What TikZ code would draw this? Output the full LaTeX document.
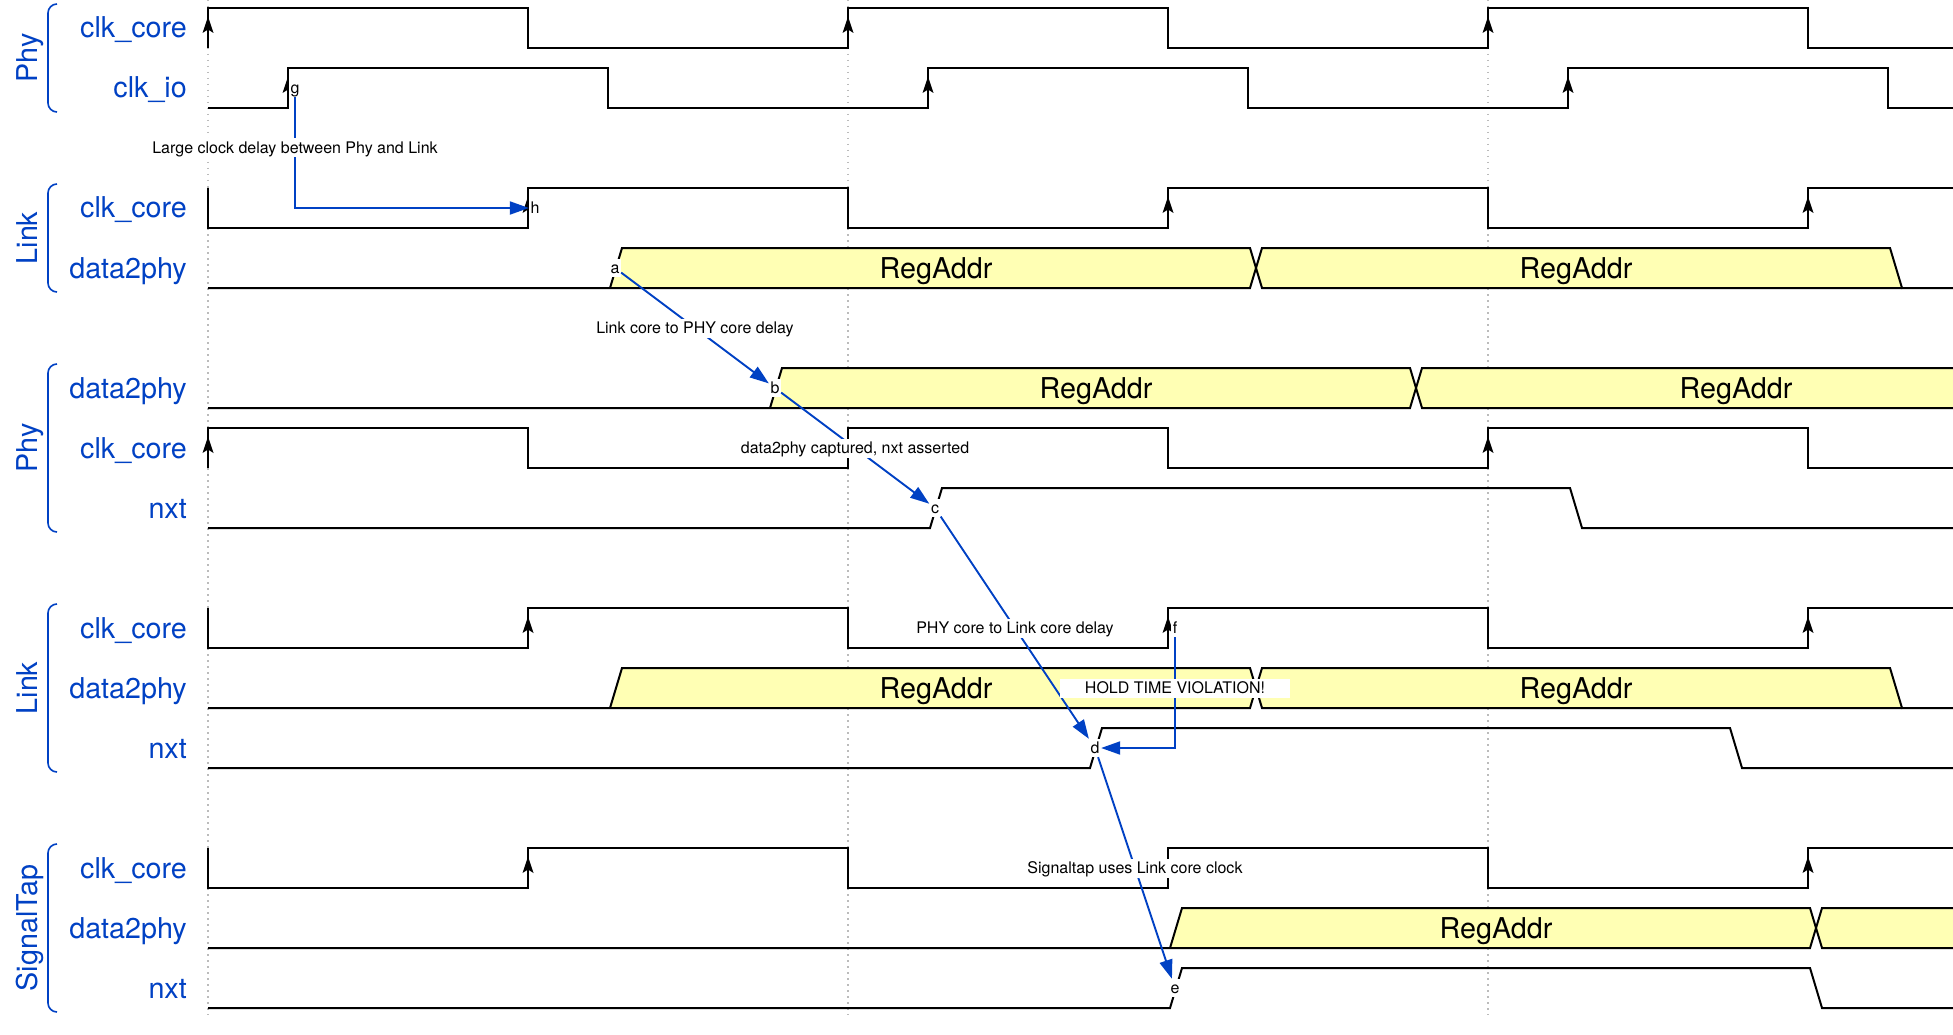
\documentclass[tikz,border=0pt]{standalone}
\usepackage{fontspec}
\setmainfont{TeX Gyre Heros}
\usetikzlibrary{arrows.meta,calc}
\definecolor{wdblue}{HTML}{0041C4}
\definecolor{busfill}{HTML}{FFFFB4}
\definecolor{gridc}{HTML}{BBBBBB}
\tikzset{
 wv/.style={line width=2pt, black, line join=miter},
 bus/.style={fill=busfill},
 gridln/.style={gridc, line width=1.5pt, dash pattern=on 1.5pt off 4.5pt},
 lanelbl/.style={text=wdblue, anchor=base east, inner sep=0pt, font=\fontsize{28.7pt}{30pt}\selectfont},
 grplbl/.style={text=wdblue, rotate=90, anchor=base, inner sep=0pt, font=\fontsize{28.7pt}{30pt}\selectfont},
 brk/.style={wdblue, line width=1.6pt, rounded corners=9pt},
 datalbl/.style={anchor=base, inner sep=0pt, font=\fontsize{28.7pt}{30pt}\selectfont},
 nodelbl/.style={fill=white, inner xsep=1.5pt, inner ysep=1.5pt, text height=13.2pt, text depth=1.8pt, font=\fontsize{16pt}{18pt}\selectfont},
 edgelbl/.style={fill=white, inner xsep=1pt, inner ysep=2pt, text height=13.2pt, text depth=1.8pt, font=\fontsize{16pt}{18pt}\selectfont},
 edg/.style={wdblue, line width=1.9pt, -{Triangle[length=19pt,width=13pt]}},
}
\newcommand\clkarr[2]{\fill (#1,#2+8.5) -- (#1-5.5,#2+25) -- (#1,#2+21.5) -- (#1+5.5,#2+25) -- cycle;}
\newcommand\clkP[2]{\draw[wv] (208,#2) -- (208,#1) -- (528,#1) -- (528,#2) -- (848,#2) -- (848,#1) -- (1168,#1) -- (1168,#2) -- (1488,#2) -- (1488,#1) -- (1808,#1) -- (1808,#2) -- (1953,#2);
 \clkarr{208}{#1}\clkarr{848}{#1}\clkarr{1488}{#1}}
\newcommand\clkN[2]{\draw[wv] (208,#1) -- (208,#2) -- (528,#2) -- (528,#1) -- (848,#1) -- (848,#2) -- (1168,#2) -- (1168,#1) -- (1488,#1) -- (1488,#2) -- (1808,#2) -- (1808,#1) -- (1953,#1);
 \clkarr{528}{#1}\clkarr{1168}{#1}\clkarr{1808}{#1}}
\begin{document}
\begin{tikzpicture}[x=1pt,y=-1pt]
\useasboundingbox (0,0) rectangle (1953,1035);
\fill[white] (0,0) rectangle (1953,1035);
\begin{scope}
\clip (0,0) rectangle (1953,1035);
% grid
\draw[gridln] (208,0) -- (208,1015);
\draw[gridln] (848,0) -- (848,1015);
\draw[gridln] (1488,0) -- (1488,1015);
% group brackets and labels
\draw[brk] (57,4) -- (48,4) -- (48,112) -- (57,112);
\draw[brk] (57,184) -- (48,184) -- (48,292) -- (57,292);
\draw[brk] (57,364) -- (48,364) -- (48,532) -- (57,532);
\draw[brk] (57,604) -- (48,604) -- (48,772) -- (57,772);
\draw[brk] (57,844) -- (48,844) -- (48,1012) -- (57,1012);
\node[grplbl] (gphy1) at (37,58) {Phy};
\node[grplbl] (glink1) at (37,238) {Link};
\node[grplbl] (gphy2) at (37,448) {Phy};
\node[grplbl] (glink2) at (37,688) {Link};
\node[grplbl] (gst) at (37,928) {SignalTap};
% lane labels
\node[lanelbl] (l0) at (187,38) {clk\_core};
\node[lanelbl] (l1) at (187,98) {clk\_io};
\node[lanelbl] (l3) at (187,218) {clk\_core};
\node[lanelbl] (l4) at (187,278) {data2phy};
\node[lanelbl] (l6) at (187,398) {data2phy};
\node[lanelbl] (l7) at (187,458) {clk\_core};
\node[lanelbl] (l8) at (187,518) {nxt};
\node[lanelbl] (l10) at (187,638) {clk\_core};
\node[lanelbl] (l11) at (187,698) {data2phy};
\node[lanelbl] (l12) at (187,758) {nxt};
\node[lanelbl] (l14) at (187,878) {clk\_core};
\node[lanelbl] (l15) at (187,938) {data2phy};
\node[lanelbl] (l16) at (187,998) {nxt};
% clocks
\clkP{8}{48}
\draw[wv] (208,108) -- (288,108) -- (288,68) -- (608,68) -- (608,108) -- (928,108) -- (928,68) -- (1248,68) -- (1248,108) -- (1568,108) -- (1568,68) -- (1888,68) -- (1888,108) -- (1953,108);
\clkarr{288}{68}\clkarr{928}{68}\clkarr{1568}{68}
\clkN{188}{228}
\clkP{428}{468}
\clkN{608}{648}
\clkN{848}{888}
% lane 4 bus
\fill[bus] (610,288) -- (622,248) -- (1250,248) -- (1256,268) -- (1250,288) -- cycle;
\fill[bus] (1256,268) -- (1262,248) -- (1890,248) -- (1902,288) -- (1262,288) -- cycle;
\draw[wv] (208,288) -- (1250,288) -- (1262,248) -- (1890,248) -- (1902,288) -- (1953,288);
\draw[wv] (610,288) -- (622,248) -- (1250,248) -- (1262,288) -- (1902,288);
\node[datalbl] (d4a) at (936,278) {RegAddr};
\node[datalbl] (d4b) at (1576,278) {RegAddr};
% lane 6 bus
\fill[bus] (770,408) -- (782,368) -- (1410,368) -- (1416,388) -- (1410,408) -- cycle;
\fill[bus] (1416,388) -- (1422,368) -- (1990,368) -- (1990,408) -- (1422,408) -- cycle;
\draw[wv] (208,408) -- (1410,408) -- (1422,368) -- (1990,368);
\draw[wv] (770,408) -- (782,368) -- (1410,368) -- (1422,408) -- (1990,408);
\node[datalbl] (d6a) at (1096,398) {RegAddr};
\node[datalbl] (d6b) at (1736,398) {RegAddr};
% lane 8 nxt
\draw[wv] (208,528) -- (930,528) -- (942,488) -- (1570,488) -- (1582,528) -- (1953,528);
% lane 11 bus
\fill[bus] (610,708) -- (622,668) -- (1250,668) -- (1256,688) -- (1250,708) -- cycle;
\fill[bus] (1256,688) -- (1262,668) -- (1890,668) -- (1902,708) -- (1262,708) -- cycle;
\draw[wv] (208,708) -- (1250,708) -- (1262,668) -- (1890,668) -- (1902,708) -- (1953,708);
\draw[wv] (610,708) -- (622,668) -- (1250,668) -- (1262,708) -- (1902,708);
\node[datalbl] (d11a) at (936,698) {RegAddr};
\node[datalbl] (d11b) at (1576,698) {RegAddr};
% lane 12 nxt
\draw[wv] (208,768) -- (1090,768) -- (1102,728) -- (1730,728) -- (1742,768) -- (1953,768);
% lane 15 bus
\fill[bus] (1170,948) -- (1182,908) -- (1810,908) -- (1816,928) -- (1810,948) -- cycle;
\fill[bus] (1816,928) -- (1822,908) -- (1990,908) -- (1990,948) -- (1822,948) -- cycle;
\draw[wv] (208,948) -- (1810,948) -- (1822,908) -- (1990,908);
\draw[wv] (1170,948) -- (1182,908) -- (1810,908) -- (1822,948) -- (1990,948);
\node[datalbl] (d15a) at (1496,938) {RegAddr};
% lane 16 nxt
\draw[wv] (208,1008) -- (1170,1008) -- (1182,968) -- (1810,968) -- (1822,1008) -- (1953,1008);
% node labels
\node[nodelbl] (g) at (295,88) {g};
\node[nodelbl] (h) at (535,208) {h};
\node[nodelbl] (a) at (615,268) {a};
\node[nodelbl] (b) at (775,388) {b};
\node[nodelbl] (c) at (935,508) {c};
\node[nodelbl] (d) at (1095,748) {d};
\node[nodelbl] (e) at (1175,988) {e};
\node[nodelbl] (f) at (1175,628) {f};
% edges
\draw[edg] (g) |- (h);
\node[edgelbl] (t1) at (295,148) {Large clock delay between Phy and Link};
\draw[edg] (a) -- (b);
\node[edgelbl] (t2) at ($(a)!0.5!(b)$) {Link core to PHY core delay};
\draw[edg] (b) -- (c);
\node[edgelbl] (t3) at ($(b)!0.5!(c)$) {data2phy captured, nxt asserted};
\draw[edg] (c) -- (d);
\node[edgelbl] (t4) at ($(c)!0.5!(d)$) {PHY core to Link core delay};
\draw[edg] (f) |- (d);
\node[edgelbl, inner xsep=25pt] (t5) at (1175,688) {HOLD TIME VIOLATION!};
\draw[edg] (d) -- (e);
\node[edgelbl] (t6) at ($(d)!0.5!(e)$) {Signaltap uses Link core clock};
\end{scope}
\end{tikzpicture}
\end{document}
